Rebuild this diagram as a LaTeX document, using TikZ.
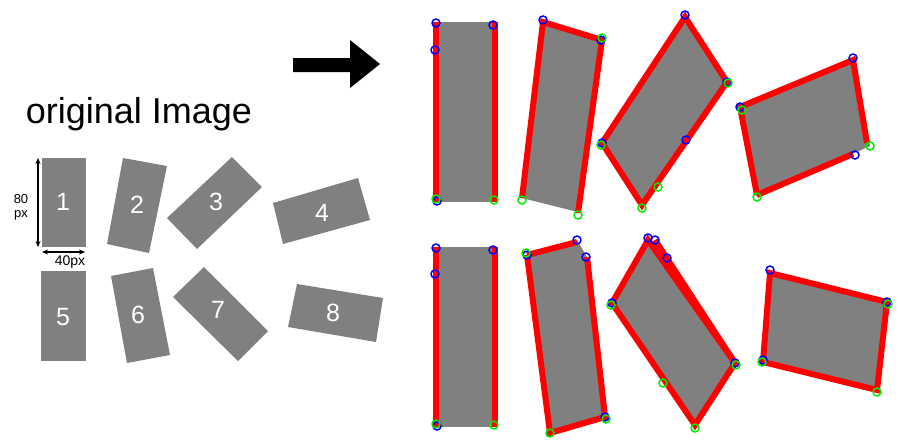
\documentclass[tikz,border=0pt]{standalone}
\usepackage{fontspec}
\setmainfont{Liberation Sans}
\usetikzlibrary{arrows.meta}
\definecolor{boxgray}{RGB}{128,128,128}
\definecolor{mkgreen}{RGB}{0,235,0}

\begin{document}
\begin{tikzpicture}[x=1pt,y=-1pt,
  box/.style={fill=boxgray},
  edge/.style={draw=red,line width=6pt},
  mkb/.style={draw=blue,line width=1.5pt},
  mkg/.style={draw=mkgreen,line width=1.5pt},
  num/.style={text=white,font=\fontsize{25}{25}\selectfont},
  dim/.style={line width=1.2pt,{Stealth[length=6pt,width=5pt]}-{Stealth[length=6pt,width=5pt]}}]
  \useasboundingbox (0,0) rectangle (900,445);
  % big arrow
  \fill (293,58) -- (350,58) -- (350,40) -- (380,64) -- (350,88) -- (350,72) -- (293,72) -- cycle;
  \node (title) at (139,114) {\fontsize{36}{36}\selectfont original Image};

  % original image
  \fill[box] (42,158) rectangle (86,247);  \node[num] (n1) at (63,202) {1};
  \fill[box] (123,158) -- (167,166) -- (149,253) -- (107,244) -- cycle; \node[num] (n2) at (137,205) {2};
  \fill[box] (232,157) -- (262,187) -- (197,249) -- (167,218) -- cycle; \node[num] (n3) at (216,202) {3};
  \fill[box] (273,203) -- (358,178) -- (370,220) -- (283,244) -- cycle; \node[num] (n4) at (322,213) {4};
  \fill[box] (41,271) rectangle (86,361);  \node[num] (n5) at (63,317) {5};
  \fill[box] (111,276) -- (153,268) -- (170,355) -- (127,363) -- cycle; \node[num] (n6) at (138,315) {6};
  \fill[box] (204,267) -- (268,331) -- (238,361) -- (173,297) -- cycle; \node[num] (n7) at (218,310) {7};
  \fill[box] (297,284) -- (383,298) -- (376,342) -- (288,327) -- cycle; \node[num] (n8) at (333,313) {8};
  \draw[dim] (38,158) -- (38,247);
  \draw[dim] (42,252) -- (85,252);
  \node[align=center,inner sep=0pt,font=\fontsize{13}{14}\selectfont] (h80) at (21,207) {80\\px};
  \node[inner sep=0pt,font=\fontsize{14}{14}\selectfont] (w40) at (70,262) {40px};

  % detected, top row
  \fill[box] (438,22) rectangle (493,202);
  \draw[edge] (436,22) -- (436,202);
  \draw[edge] (495,22) -- (495,202);
  \foreach \p in {(436,23),(493,25),(435,50),(437,201)} \draw[mkb] \p circle (4);
  \foreach \p in {(436,199),(494,200)} \draw[mkg] \p circle (4);

  \fill[box] (543,22) -- (602,40) -- (578,212) -- (522,198) -- cycle;
  \draw[edge] (522,198) -- (543,22) -- (602,40) -- (578,213);
  \foreach \p in {(543,20),(601,40)} \draw[mkb] \p circle (4);
  \foreach \p in {(602,38),(522,200),(578,215)} \draw[mkg] \p circle (4);

  \fill[box] (685,17) -- (727,82) -- (642,205) -- (602,143) -- cycle;
  \draw[edge] (685,17) -- (727,82) -- (642,205) -- (602,143) -- cycle;
  \foreach \p in {(685,15),(727,82),(602,143),(686,140)} \draw[mkb] \p circle (4);
  \foreach \p in {(728,83),(642,208),(658,187),(601,145)} \draw[mkg] \p circle (4);

  \fill[box] (740,107) -- (853,60) -- (870,146) -- (757,197) -- cycle;
  \draw[edge] (757,195) -- (740,107) -- (853,60) -- (867,143);
  \draw[edge] (757,195) -- (853,154);
  \foreach \p in {(740,107),(853,58),(855,155)} \draw[mkb] \p circle (4);
  \foreach \p in {(870,146),(757,197),(742,110)} \draw[mkg] \p circle (4);

  % detected, bottom row
  \fill[box] (438,247) rectangle (493,427);
  \draw[edge] (436,247) -- (436,427);
  \draw[edge] (495,247) -- (495,427);
  \foreach \p in {(436,248),(493,250),(435,274),(437,426)} \draw[mkb] \p circle (4);
  \foreach \p in {(436,424),(494,425)} \draw[mkg] \p circle (4);

  \fill[box] (527,255) -- (577,240) -- (587,257) -- (605,417) -- (550,433) -- cycle;
  \draw[edge] (527,255) -- (577,242);
  \draw[edge] (587,257) -- (605,417) -- (550,433) -- (527,255);
  \foreach \p in {(527,255),(577,240),(586,257),(605,417)} \draw[mkb] \p circle (4);
  \foreach \p in {(526,253),(606,419),(550,433)} \draw[mkg] \p circle (4);

  \fill[box] (648,240) -- (735,363) -- (695,425) -- (612,303) -- cycle;
  \draw[edge] (612,303) -- (648,240) -- (735,363) -- (695,425) -- cycle;
  \draw[edge] (655,240) -- (735,363);
  \foreach \p in {(648,238),(655,240),(667,258),(612,303),(735,363)} \draw[mkb] \p circle (4);
  \foreach \p in {(611,305),(736,365),(663,383),(695,428)} \draw[mkg] \p circle (4);

  \fill[box] (770,273) -- (887,302) -- (877,390) -- (763,362) -- cycle;
  \draw[edge] (770,273) -- (887,302) -- (877,390) -- (763,362) -- cycle;
  \foreach \p in {(770,270),(887,302),(763,360)} \draw[mkb] \p circle (4);
  \foreach \p in {(888,304),(762,362),(877,392)} \draw[mkg] \p circle (4);
\end{tikzpicture}
\end{document}
